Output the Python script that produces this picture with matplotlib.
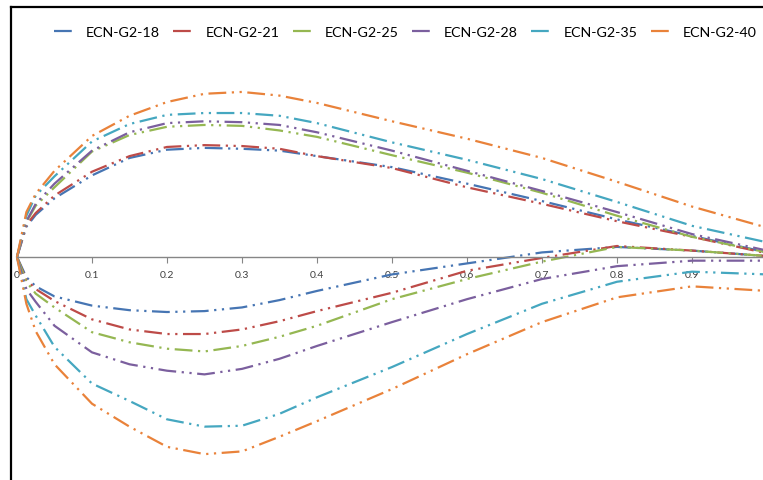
import matplotlib
matplotlib.use("Agg")
import matplotlib.pyplot as plt
from matplotlib.lines import Line2D

plt.rcParams["font.family"] = ["Lato", "DejaVu Sans"]

# chordwise stations
x_c = [0, 0.0125, 0.025, 0.05, 0.1, 0.15, 0.2, 0.25, 0.3, 0.35, 0.4, 0.5, 0.6, 0.7, 0.8, 0.9, 1.0]

names = ["ECN-G2-18", "ECN-G2-21", "ECN-G2-25", "ECN-G2-28", "ECN-G2-35", "ECN-G2-40"]
colors = ["#4675B3", "#BD4B48", "#95B752", "#7B5F9E", "#45A7C0", "#E9823A"]

# upper surfaces (y/c)
up_18 = [0, .033, .046, .064, .089, .108, .117, .119, .118, .116, .110, .098, .080, .061, .041, .023, .005]
up_21 = [0, .035, .048, .067, .093, .110, .120, .122, .121, .118, .110, .097, .076, .058, .039, .022, .004]
up_25 = [0, .038, .056, .076, .115, .133, .142, .144, .143, .138, .131, .111, .092, .070, .045, .022, .005]
up_28 = [0, .039, .058, .080, .116, .136, .146, .148, .147, .144, .136, .116, .094, .072, .049, .025, .007]
up_35 = [0, .045, .067, .088, .126, .145, .155, .157, .157, .154, .146, .125, .106, .085, .060, .034, .016]
up_40 = [0, .049, .069, .094, .132, .154, .169, .178, .180, .176, .168, .148, .129, .108, .082, .055, .032]

# lower surfaces (y/c)
lo_18 = [0, -.022, -.032, -.043, -.053, -.058, -.060, -.059, -.055, -.047, -.037, -.019, -.007, .005, .011, .007, .001]
lo_21 = [0, -.025, -.035, -.048, -.068, -.079, -.084, -.084, -.079, -.070, -.059, -.039, -.015, -.001, .012, .007, .001]
lo_25 = [0, -.027, -.040, -.055, -.082, -.093, -.100, -.103, -.097, -.087, -.075, -.046, -.024, -.005, .011, .007, .001]
lo_28 = [0, -.035, -.049, -.075, -.104, -.117, -.124, -.128, -.122, -.111, -.097, -.071, -.046, -.024, -.010, -.004, -.004]
lo_35 = [0, -.046, -.064, -.098, -.138, -.157, -.177, -.185, -.184, -.171, -.153, -.120, -.084, -.051, -.027, -.016, -.019]
lo_40 = [0, -.051, -.081, -.117, -.160, -.185, -.207, -.215, -.212, -.196, -.179, -.144, -.106, -.071, -.044, -.032, -.037]

uppers = [up_18, up_21, up_25, up_28, up_35, up_40]
lowers = [lo_18, lo_21, lo_25, lo_28, lo_35, lo_40]

tick_vals = [0, 0.1, 0.2, 0.3, 0.4, 0.5, 0.6, 0.7, 0.8, 0.9]
tick_labels = ["0", "0.1", "0.2", "0.3", "0.4", "0.5", "0.6", "0.7", "0.8", "0.9"]

dash = (0, (8, 2.5, 1, 2.5, 1, 2.5))

fig = plt.figure(figsize=(7.63, 4.81), dpi=100)
ax = fig.add_axes([0, 0, 1, 1])
ax.set_xlim(-17 / 750, 746 / 750)
ax.set_ylim(-223 / 917, 258 / 917)

for name, col, yu, yl in zip(names, colors, uppers, lowers):
    ax.plot(x_c, yu, color=col, lw=1.6, linestyle=dash, dash_capstyle="butt", label=name)
    ax.plot(x_c, yl, color=col, lw=1.6, linestyle=dash, dash_capstyle="butt")

for s in ["top", "right", "left"]:
    ax.spines[s].set_visible(False)
ax.spines["bottom"].set_position(("data", 0))
ax.spines["bottom"].set_bounds(0, 1.0)
ax.spines["bottom"].set_color("#868686")
ax.spines["bottom"].set_linewidth(1.0)
ax.set_xticks(tick_vals)
ax.set_xticklabels(tick_labels)
ax.tick_params(axis="x", direction="out", length=4, color="#868686", labelsize=7.5,
               labelcolor="#404040", pad=5)
ax.set_yticks([])

ax.legend(loc="upper left", bbox_to_anchor=(54 / 763, 1 - 27 / 481), ncol=6, frameon=False,
          fontsize=10.3, handlelength=1.5, handletextpad=0.75, columnspacing=0.92,
          borderaxespad=0, borderpad=0)

# chart frame (left and top edges visible in the crop)
fig.add_artist(Line2D([11 / 763, 11 / 763], [0, 1 - 8 / 481], color="black", lw=1.6,
                      transform=fig.transFigure))
fig.add_artist(Line2D([11 / 763, 1], [1 - 8 / 481, 1 - 8 / 481], color="black", lw=1.6,
                      transform=fig.transFigure))

fig.savefig("out.png", dpi=100)
